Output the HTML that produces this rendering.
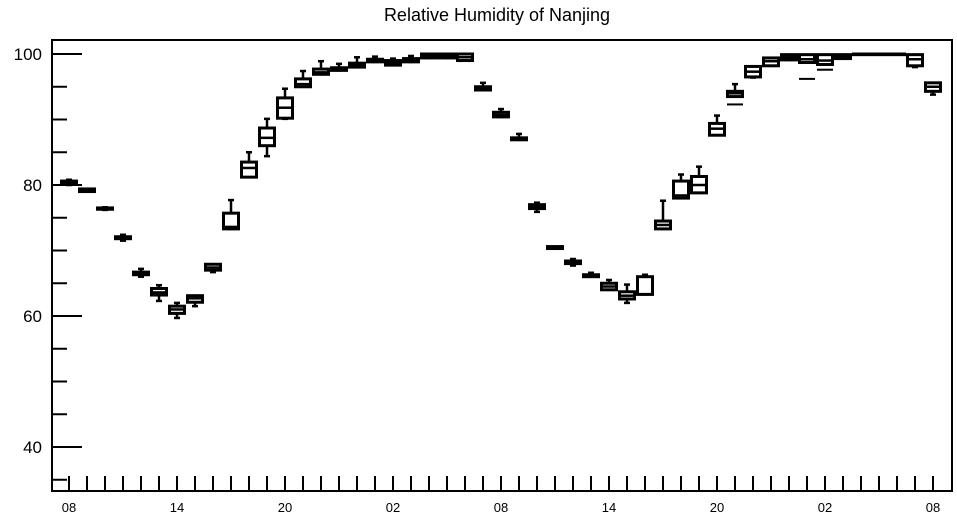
<!DOCTYPE html>
<html><head><meta charset="utf-8"><style>
html,body{margin:0;padding:0;background:#fff;}
svg{display:block;font-family:"Liberation Sans",sans-serif;}
</style></head><body>
<svg id="chart" width="957" height="520" viewBox="0 0 957 520">
<text x="497" y="21" text-anchor="middle" font-size="18">Relative Humidity of Nanjing</text>
<g id="plot"></g>
</svg>
<script>
const xLabels=["08","14","20","02","08","14","20","02","08"];
const yTicks=[40,60,80,100];
const q1 =[80.1,79.0,76.3,71.8,66.3,63.2,60.4,62.1,67.0,73.3,81.2,86.0,90.2,95.0,96.9,97.5,98.0,98.8,98.3,98.8,99.4,99.4,99.0,94.5,90.4,86.9,76.4,70.3,68.0,66.0,64.0,62.6,63.3,73.3,78.0,78.8,87.6,93.5,96.5,98.2,99.1,98.7,98.4,99.3,99.9,99.9,99.9,98.2,94.3];
const med=[80.3,79.2,76.4,71.9,66.5,63.6,61.0,62.7,67.4,73.6,82.6,87.2,91.8,95.4,97.2,97.7,98.3,99.0,98.6,99.0,99.7,99.7,99.5,94.7,90.7,87.0,76.7,70.4,68.2,66.1,64.5,63.1,63.3,73.9,78.4,80.0,88.6,94.0,97.3,98.9,99.5,99.2,99.0,99.6,100,100,100,99.2,95.0];
const q3 =[80.6,79.4,76.5,72.1,66.7,64.2,61.5,63.1,67.9,75.7,83.5,88.7,93.3,96.2,97.7,97.9,98.6,99.2,99.0,99.3,100,100,100,95.0,91.1,87.2,77.0,70.6,68.4,66.3,65.0,63.7,66.0,74.5,80.6,81.3,89.4,94.3,98.1,99.4,99.9,99.9,99.9,99.9,100,100,100,99.9,95.6];
const lo =[80.0,79.0,76.2,71.5,66.0,62.3,59.7,61.5,66.7,73.3,81.2,84.4,90.1,95.0,96.9,97.5,98.0,98.8,98.3,98.8,99.4,99.4,99.0,94.5,90.4,86.9,75.9,70.3,67.7,66.0,64.0,62.0,63.3,73.3,78.0,78.8,87.6,93.5,96.4,98.2,99.1,98.7,98.4,99.3,99.9,99.9,99.9,98.0,93.8];
const hi =[80.8,79.4,76.6,72.4,67.2,64.7,62.0,63.1,67.9,77.7,85.0,90.1,94.7,97.4,98.9,98.5,99.5,99.6,99.3,99.7,100,100,100,95.6,91.6,87.8,77.3,70.6,68.7,66.6,65.5,64.8,66.3,77.6,81.6,82.8,90.6,95.4,98.1,99.4,99.9,99.9,99.9,99.9,100,100,100,99.9,95.6];
const outliers=[[37,92.3],[41,96.2],[42,97.6]];
const NS="http://www.w3.org/2000/svg";
const L=52,R=952,T=40,B=491;
const yS=v=>54+(100-v)*6.55;
const xS=i=>69+18*i;
const g=document.getElementById('plot');
function mk(tag,attrs,parent){const e=document.createElementNS(NS,tag);for(const k in attrs)e.setAttribute(k,attrs[k]);(parent||g).appendChild(e);return e;}
const frame=mk('rect',{x:L,y:T,width:R-L,height:B-T,fill:'none',stroke:'#000','stroke-width':2});


for(let v=35;v<=100;v+=5){
  const major=v%20===0;
  const t=mk('line',{x1:L,x2:L+(major?30:15),y1:yS(v),y2:yS(v),stroke:'#000','stroke-width':2});
  
  
}
yTicks.forEach(v=>{
  const t=mk('text',{x:42,y:yS(v)+6,'text-anchor':'end','font-size':17});
  t.textContent=v;
  
  
});
for(let i=0;i<49;i++){
  const t=mk('line',{x1:xS(i),x2:xS(i),y1:B,y2:B-15,stroke:'#000','stroke-width':2});
  
  
}
xLabels.forEach((s,k)=>{
  const t=mk('text',{x:xS(k*6),y:512,'text-anchor':'middle','font-size':13});
  t.textContent=s;
  
  
});
for(let i=0;i<q1.length;i++){
  const x=xS(i);
  const bx=mk('g',{});
  
  
  const ya=yS(q3[i]),yb=yS(q1[i]);
  mk('line',{x1:x,x2:x,y1:yS(hi[i]),y2:ya,stroke:'#000','stroke-width':2.5},bx);
  mk('line',{x1:x,x2:x,y1:yb,y2:yS(lo[i]),stroke:'#000','stroke-width':2.5},bx);
  mk('line',{x1:x-3,x2:x+3,y1:yS(hi[i]),y2:yS(hi[i]),stroke:'#000','stroke-width':2.5},bx);
  mk('line',{x1:x-3,x2:x+3,y1:yS(lo[i]),y2:yS(lo[i]),stroke:'#000','stroke-width':2.5},bx);
  mk('rect',{x:x-7.5,y:ya,width:15,height:Math.max(yb-ya,0.5),fill:'#fff',stroke:'#000','stroke-width':3},bx);
  mk('line',{x1:x-7.5,x2:x+7.5,y1:yS(med[i]),y2:yS(med[i]),stroke:'#000','stroke-width':2.5},bx);
}
outliers.forEach(o=>{
  const t=mk('line',{x1:xS(o[0])-8,x2:xS(o[0])+8,y1:yS(o[1]),y2:yS(o[1]),stroke:'#000','stroke-width':2});
  
  
});
</script>
</body></html>
